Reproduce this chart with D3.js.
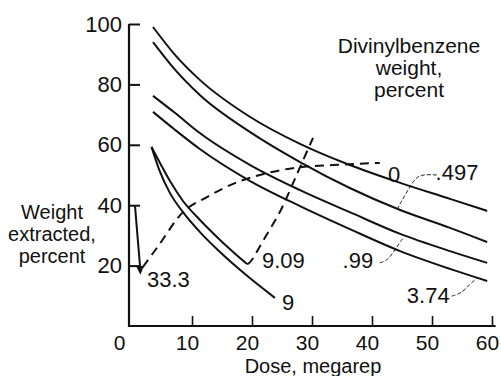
<!DOCTYPE html>
<html>
<head>
<meta charset="utf-8">
<script src="https://cdn.jsdelivr.net/npm/d3@7"></script>
<style>
  body { margin: 0; background: #fff; }
  svg text { font-family: "Liberation Sans", Arial, sans-serif; fill: #111; }
</style>
</head>
<body>
<div id="chart"></div>
<script>
// dose axis (megarep) and weight extracted (percent)
var doses = [3.5, 7.2, 11.3, 19.7, 28, 36.3, 44.7, 53, 59.2];
var dvb0 = [99.0, 89.7, 81.5, 69.2, 60.3, 53.3, 47.4, 42.1, 38.1];
var dvb497 = [94.0, 84.8, 76.5, 64.2, 54.3, 45.7, 38.4, 32.5, 27.8];
var dvb99 = [76.2, 70.5, 63.9, 53.3, 45.0, 37.7, 30.5, 24.8, 20.9];
var dvb374 = [70.9, 64.9, 58.6, 48.0, 39.7, 32.1, 24.8, 18.9, 14.9];

var doses909 = [3.25, 4.67, 6.33, 8.5, 11.33, 14.67, 19.17];
var dvb909 = [59.3, 54.0, 48.0, 41.4, 35.1, 28.5, 20.5];
var doses9 = [3.25, 4.67, 6.33, 8.5, 11.33, 14.67, 18.83, 23.83];
var dvb9 = [59.3, 51.0, 44.0, 37.7, 31.1, 24.5, 17.2, 9.3];

// dashed curve (33.3 percent)
var doses333 = [1.8, 4.2, 8.5, 12.5, 18, 21.3, 28, 33.5, 41.3];
var dvb333 = [19.5, 26, 37.7, 42.7, 48, 50, 52.6, 53.3, 54];

// dashed guide from the end of the 9.09 curve
var guideDoses = [19.17, 19.83, 22.17, 24.67, 26.33, 28, 30.17];
var guideVals = [20.5, 20.9, 29.5, 37.4, 45.0, 52.6, 62.3];

var xTicks = [0, 10, 20, 30, 40, 50, 60];
var yTicks = [20, 40, 60, 80, 100];

// curve labels: text, dose, percent (baseline-left anchor)
var curveLabels = [
  ["0", 42.67, 47.7],
  [".497", 50.6, 48.3],
  ["9.09", 21.67, 19.2],
  [".99", 35.1, 19.2],
  ["3.74", 45.8, 7.6],
  ["9", 25, 5.3],
  ["33.3", 2.5, 12.9]
];

// small leader lines from labels to curves
var leaders = [
  [[50.8, 50.0], [48.0, 50.3], [46.8, 48.0], [44.2, 38.7]],
  [[41.3, 20.9], [42.7, 21.9], [43.8, 25.2], [45.3, 29.5]],
  [[53.3, 9.9], [55.0, 10.9], [56.3, 13.9], [57.7, 16.2]]
];

var width = 501, height = 376;

var svg = d3.select("#chart").append("svg")
    .attr("width", width)
    .attr("height", height);

svg.append("rect").attr("width", width).attr("height", height).attr("fill", "#fff");

var x = d3.scaleLinear().domain([0, 60]).range([132, 492]);
var y = d3.scaleLinear().domain([0, 100]).range([326, 24]);

var line = d3.line()
    .x(function(d) { return x(d[0]); })
    .y(function(d) { return y(d[1]); })
    .curve(d3.curveMonotoneX);

var smooth = d3.line()
    .x(function(d) { return x(d[0]); })
    .y(function(d) { return y(d[1]); })
    .curve(d3.curveBasis);

function pairs(xs, ys) {
  return xs.map(function(v, i) { return [v, ys[i]]; });
}

// axes
var yAxis = d3.axisLeft(y).tickValues(yTicks).tickSize(-11).tickSizeOuter(0).tickPadding(7);
var gy = svg.append("g").attr("transform", "translate(129,0)").call(yAxis);
gy.select(".domain").remove();
gy.selectAll(".tick line").attr("stroke", "#111").attr("stroke-width", 2);
gy.selectAll(".tick text").attr("font-size", 22).attr("fill", "#111")
    .attr("font-family", "Liberation Sans, Arial, sans-serif");

var xAxis = d3.axisBottom(x).tickValues(xTicks).tickSize(-10).tickSizeOuter(0).tickPadding(9);
var gx = svg.append("g").attr("transform", "translate(0,326)").call(xAxis);
gx.select(".domain").remove();
gx.selectAll(".tick line").attr("stroke", "#111").attr("stroke-width", 1.6)
    .attr("opacity", function(d) { return d === 0 ? 0 : 1; });
gx.selectAll(".tick text").attr("font-size", 21).attr("fill", "#111")
    .attr("font-family", "Liberation Sans, Arial, sans-serif")
    .attr("dx", function(d) { return d === 0 ? -13 : -5; });

svg.append("line")
    .attr("x1", 129).attr("x2", 129)
    .attr("y1", y(100)).attr("y2", y(0) + 1)
    .attr("stroke", "#111").attr("stroke-width", 2.2);
svg.append("line")
    .attr("x1", 128).attr("x2", x(60.6))
    .attr("y1", y(0)).attr("y2", y(0))
    .attr("stroke", "#111").attr("stroke-width", 2.2);

// solid curves
var solid = [
  pairs(doses, dvb0),
  pairs(doses, dvb497),
  pairs(doses, dvb99),
  pairs(doses, dvb374),
  pairs(doses909, dvb909),
  pairs(doses9, dvb9)
];

svg.append("g").selectAll("path")
    .data(solid)
    .enter().append("path")
    .attr("d", line)
    .attr("fill", "none")
    .attr("stroke", "#111")
    .attr("stroke-width", 2);

// dashed curves
svg.append("path")
    .attr("d", line(pairs(doses333, dvb333)))
    .attr("fill", "none")
    .attr("stroke", "#111")
    .attr("stroke-width", 2)
    .attr("stroke-dasharray", "9,6");

svg.append("path")
    .attr("d", smooth(pairs(guideDoses, guideVals)))
    .attr("fill", "none")
    .attr("stroke", "#111")
    .attr("stroke-width", 2)
    .attr("stroke-dasharray", "9,6");

svg.append("g").selectAll("path")
    .data(leaders)
    .enter().append("path")
    .attr("d", smooth)
    .attr("fill", "none")
    .attr("stroke", "#222")
    .attr("stroke-width", 1)
    .attr("stroke-dasharray", "4,2");

// arrow from 40 down to 20 (weight extracted)
var ax1 = x(0.5), ay1 = y(39.7), ax2 = x(1.4), ay2 = y(17.0);
svg.append("line")
    .attr("x1", ax1).attr("y1", ay1)
    .attr("x2", ax2).attr("y2", ay2 - 4)
    .attr("stroke", "#111").attr("stroke-width", 2);
svg.append("path")
    .attr("d", "M" + ax2 + "," + ay2 + " L" + (ax2 - 4.5) + "," + (ay2 - 9) + " L" + (ax2 + 3.5) + "," + (ay2 - 8.5) + " Z")
    .attr("fill", "#111");

// curve labels
svg.append("g").selectAll("text")
    .data(curveLabels)
    .enter().append("text")
    .attr("x", function(d) { return x(d[1]); })
    .attr("y", function(d) { return y(d[2]); })
    .attr("font-size", 22)
    .text(function(d) { return d[0]; });

// titles
function multiline(lines, cx, y0, step, size) {
  var t = svg.append("text").attr("text-anchor", "middle").attr("font-size", size);
  lines.forEach(function(s, i) {
    t.append("tspan").attr("x", cx).attr("y", y0 + i * step).text(s);
  });
}

multiline(["Divinylbenzene", "weight,", "percent"], 409, 53, 22, 21);
multiline(["Weight", "extracted,", "percent"], 52, 219, 22, 20);

svg.append("text")
    .attr("x", 313).attr("y", 373)
    .attr("text-anchor", "middle")
    .attr("font-size", 20)
    .text("Dose, megarep");
</script>
</body>
</html>
